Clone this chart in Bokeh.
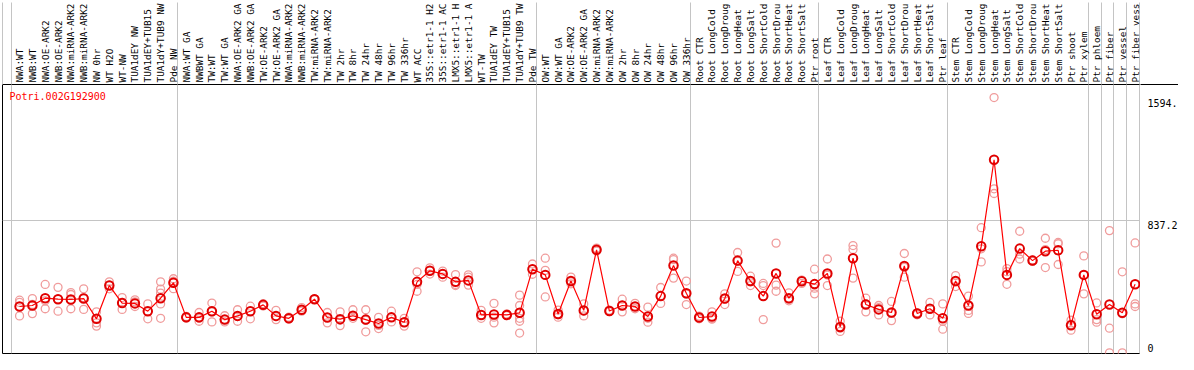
from bokeh.plotting import figure
from bokeh.layouts import row
from bokeh.core.properties import value
from bokeh.models import (ColumnDataSource, Range1d, LinearAxis, FixedTicker, Grid, Label)
from bokeh.embed import file_html
from bokeh.resources import INLINE

labels = [
    "NWA:WT", "NWB:WT", "NWA:OE-ARK2", "NWB:OE-ARK2", "NWA:miRNA-ARK2", "NWB:miRNA-ARK2",
    "NW 0hr", "WT H2O", "WT-NW", "TUA1dEY NW", "TUA1dEY+TUB15", "TUA1dY+TUB9 NW", "Pde NW",
    "NWA:WT GA", "NWBWT GA", "TW:WT", "TW:WT GA", "NWA:OE-ARK2 GA", "NWB:OE-ARK2 GA",
    "TW:OE-ARK2", "TW:OE-ARK2 GA", "NWA:miRNA-ARK2", "NWB:miRNA-ARK2", "TW:miRNA-ARK2",
    "TW:miRNA-ARK2", "TW 2hr", "TW 8hr", "TW 24hr", "TW 48hr", "TW 96hr", "TW 336hr",
    "WT ACC", "35S::etr1-1 H2", "35S::etr1-1 AC", "LMX5::etr1-1 H", "LMX5::etr1-1 A",
    "WT-TW", "TUA1dEY TW", "TUA1dEY+TUB15", "TUA1dY+TUB9 TW", "Pde TW",
    "OW:WT", "OW:WT GA", "OW:OE-ARK2", "OW:OE-ARK2 GA", "OW:miRNA-ARK2", "OW:miRNA-ARK2",
    "OW 2hr", "OW 8hr", "OW 24hr", "OW 48hr", "OW 96hr", "OW 336hr",
    "Root CTR", "Root LongCold", "Root LongDroug", "Root LongHeat", "Root LongSalt",
    "Root ShortCold", "Root ShortDrou", "Root ShortHeat", "Root ShortSalt", "Ptr root",
    "Leaf CTR", "Leaf LongCold", "Leaf LongDroug", "Leaf LongHeat", "Leaf LongSalt",
    "Leaf ShortCold", "Leaf ShortDrou", "Leaf ShortHeat", "Leaf ShortSalt", "Ptr leaf",
    "Stem CTR", "Stem LongCold", "Stem LongDroug", "Stem LongHeat", "Stem LongSalt",
    "Stem ShortCold", "Stem ShortDrou", "Stem ShortHeat", "Stem ShortSalt", "Ptr shoot",
    "Ptr xylem", "Ptr phloem", "Ptr fiber", "Ptr vessel", "Ptr fiber vess",
]

group_sizes = [13, 28, 12, 10, 10, 11, 1, 1, 1, 1]

means = [
    305, 311, 356, 350, 348, 354, 229, 434, 326, 324, 276, 356, 451,
    238, 238, 276, 224, 247, 276, 315, 247, 232, 285, 350, 237, 227, 248, 224, 200,
    238, 208, 457, 525, 506, 457, 466, 253, 256, 253, 266, 535,
    500, 259, 462, 281, 655, 277, 311, 305, 243, 369, 558, 387,
    237, 243, 354, 588, 462, 369, 509, 356, 461, 443,
    509, 179, 603, 317, 287, 268, 555, 262, 291, 232,
    462, 311, 677, 1210, 500, 662, 588, 646, 652, 189, 500,
    257, 317, 266, 442,
]

replicates = [
    [344, 330, 247], [354, 318, 261], [441, 340, 291], [423, 350, 276], [391, 379, 291],
    [414, 360, 287], [272, 204, 184], [457, 437, 414], [360, 330, 287], [346, 334, 305],
    [321, 276, 229], [457, 412, 388, 321, 232], [476, 461, 415],
    [244, 236, 234], [268, 232, 214], [326, 272, 210], [248, 224, 210], [285, 243, 214],
    [307, 276, 229], [315, 308, 322], [281, 243, 224], [239, 229, 228], [298, 276, 283],
    [352, 348, 350], [268, 237, 204], [272, 220, 187], [285, 247, 232], [285, 220, 149],
    [238, 188, 169], [276, 238, 210], [232, 184, 205], [519, 441, 399], [543, 528, 505],
    [523, 506, 486], [502, 441, 434], [500, 486, 437], [281, 253, 232], [324, 204, 239],
    [259, 249, 252], [375, 311, 262, 232, 214, 141], [567, 535, 504],
    [603, 528, 364], [254, 239, 283], [486, 457, 445], [321, 247, 278], [665, 653, 647],
    [283, 274, 276], [350, 311, 272], [324, 305, 291], [301, 232, 208], [422, 369, 324],
    [603, 594, 480], [462, 317, 381],
    [246, 229, 236], [272, 227, 231], [383, 350, 317], [638, 583, 521], [492, 457, 434],
    [447, 434, 224], [696, 437, 399], [389, 350, 340], [466, 447, 468], [535, 418, 383],
    [598, 434, 499], [214, 151, 171], [681, 657, 480], [356, 272, 322], [311, 253, 298],
    [336, 262, 218], [632, 486, 546], [266, 254, 266], [330, 253, 290], [321, 214, 165],
    [496, 457, 428], [369, 281, 262], [791, 661, 580], [1594, 1031, 1002], [539, 520, 442],
    [769, 628, 598], [592, 584, 588], [726, 656, 545], [700, 692, 564], [220, 195, 159],
    [617, 500, 383],
    [327, 224, 208], [773, 171, 19], [519, 260, 19], [697, 321, 305],
]

gene = "Potri.002G192900"
y_marks = [1594, 837.2, 0]
y_mark_labels = ["1594.", "837.2", "0"]

n = len(labels)
xs = list(range(1, n + 1))

rx, ry = [], []
for i, vals in zip(xs, replicates):
    for v in vals:
        rx.append(i)
        ry.append(v)

# separators sit a little left of each group's first column
starts = [1]
for g in group_sizes:
    starts.append(starts[-1] + g)
bounds = [s - 0.66 for s in starts]

MONO = "DejaVu Sans Mono"
GRID = "#c4c4c4"
Y0, Y1 = 15, 1674.4
X0, X1 = -0.33, 88.42
HEAD = 82
H = 354

yr = Range1d(Y0, Y1)

p = figure(width=1140, height=H, output_backend="svg", toolbar_location=None,
           x_range=Range1d(X0, X1), y_range=yr,
           x_axis_location=None, y_axis_location=None,
           min_border_left=2, min_border_right=0, min_border_top=HEAD, min_border_bottom=1,
           outline_line_color="black", outline_line_width=1,
           background_fill_color="white", border_fill_color="white")
p.grid.visible = False

p.add_layout(Grid(dimension=0, ticker=FixedTicker(ticks=bounds),
                  grid_line_color=GRID, grid_line_width=1))
p.add_layout(Grid(dimension=1, ticker=FixedTicker(ticks=[837.2]),
                  grid_line_color=GRID, grid_line_width=1))

top_ax = LinearAxis(
    ticker=FixedTicker(ticks=xs, minor_ticks=[X0 + 0.01] + bounds),
    major_label_overrides={i: lab for i, lab in zip(xs, labels)},
    major_label_orientation="vertical",
    major_label_text_font=MONO, major_label_text_font_size="9.4px",
    major_label_text_color="black",
    major_label_standoff=2, major_tick_out=0, major_tick_in=0,
    minor_tick_out=0, minor_tick_in=-HEAD, minor_tick_line_color=GRID,
    axis_line_color="black",
)
p.add_layout(top_ax, "above")

p.add_layout(Label(x=X0, y=Y1, x_offset=7, y_offset=-6, text=gene,
                   text_font=MONO, text_font_size="10px", text_baseline="top",
                   text_color="#ff0000"))

rep_src = ColumnDataSource(dict(x=rx, y=ry))
mean_src = ColumnDataSource(dict(x=xs, y=means))

p.scatter("x", "y", source=rep_src, marker="circle", size=8,
          fill_color=None, line_color="#f09c9c", line_width=1.3)
p.line("x", "y", source=mean_src, line_color="#ff0000", line_width=1.2)
p.scatter("x", "y", source=mean_src, marker="circle", size=8.5,
          fill_color=None, line_color="#e00000", line_width=2)

# value labels at the right, sharing the y scale
side = figure(width=38, height=H, output_backend="svg", toolbar_location=None,
              x_range=Range1d(0, 1), y_range=yr,
              x_axis_location=None, y_axis_location=None,
              min_border_left=0, min_border_right=0, min_border_top=HEAD, min_border_bottom=1,
              outline_line_color=None,
              background_fill_color="white", border_fill_color="white")
side.grid.visible = False
side.add_layout(LinearAxis(ticker=FixedTicker(ticks=[]), axis_line_color="black",
                           major_tick_out=0, minor_tick_out=0,
                           major_label_text_font_size="0px"), "above")
lab_src = ColumnDataSource(dict(
    x=[0] * len(y_marks), y=y_marks, t=y_mark_labels,
    base=["top" if v > 0 else "bottom" for v in y_marks],
    dy=[1 if v > 0 else -4 for v in y_marks],
))
side.text("x", "y", text="t", source=lab_src, x_offset=7, y_offset="dy",
          text_baseline="base", text_align="left",
          text_font=value(MONO), text_font_size=value("10px"), text_color="black")

open("out.html", "w").write(file_html(row(p, side), INLINE))
